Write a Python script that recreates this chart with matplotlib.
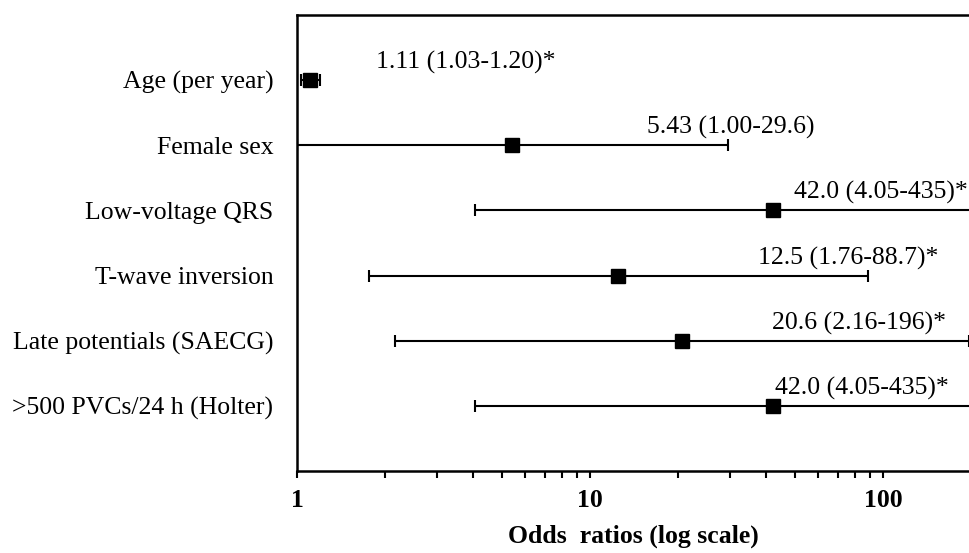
import matplotlib
matplotlib.use("Agg")
import matplotlib.pyplot as plt
from matplotlib.ticker import FixedLocator, NullFormatter, LogLocator

plt.rcParams['font.family'] = ['Liberation Serif', 'DejaVu Serif']

# Data
factors = ['Age (per year)', 'Female sex', 'Low-voltage QRS',
           'T-wave inversion', 'Late potentials (SAECG)',
           '>500 PVCs/24 h (Holter)']
odds = [1.11, 5.43, 42.0, 12.5, 20.6, 42.0]
ci_low = [1.03, 1.00, 4.05, 1.76, 2.16, 4.05]
ci_high = [1.20, 29.6, 435, 88.7, 196, 435]
labels = ['1.11 (1.03-1.20)*', '5.43 (1.00-29.6)', '42.0 (4.05-435)*',
          '12.5 (1.76-88.7)*', '20.6 (2.16-196)*', '42.0 (4.05-435)*']

# hand placed annotation positions (left edge, in odds-ratio units)
label_x = [1.86, 15.6, 49.7, 37.4, 41.8, 42.8]

fig = plt.figure(figsize=(9.70, 5.53), dpi=100)
ax = fig.add_axes([0.3062, 0.1483, 0.6938, 0.8246])

rows = list(range(1, len(factors) + 1))
err_lo = [o - l for o, l in zip(odds, ci_low)]
err_hi = [h - o for o, h in zip(odds, ci_high)]

ax.errorbar(odds, rows, xerr=[err_lo, err_hi], fmt='s', color='black',
            markersize=10, elinewidth=1.5, capsize=4, capthick=1.5)

for x, y, txt in zip(label_x, rows, labels):
    ax.text(x, y - 0.27, txt, fontsize=18.5, ha='left', va='center')

ax.set_xscale('log')
ax.set_xlim(1, 198)
ax.set_ylim(7, 0)

ax.set_yticks(rows)
ax.set_yticklabels(factors, fontsize=18.5)
ax.tick_params(axis='y', length=0, pad=17)

ax.xaxis.set_major_locator(FixedLocator([1, 10, 100]))
ax.set_xticklabels(['1', '10', '100'], fontsize=18.5, fontweight='bold')
ax.xaxis.set_minor_locator(LogLocator(base=10, subs=range(2, 10)))
ax.xaxis.set_minor_formatter(NullFormatter())
ax.tick_params(axis='x', which='both', direction='out', length=5,
               width=1.5, pad=8)

ax.set_xlabel('Odds  ratios (log scale)', fontsize=18.5, fontweight='bold',
              labelpad=9)

for side in ['left', 'bottom', 'top']:
    ax.spines[side].set_linewidth(1.8)
ax.spines['right'].set_visible(False)

fig.savefig('out.png', dpi=100)
